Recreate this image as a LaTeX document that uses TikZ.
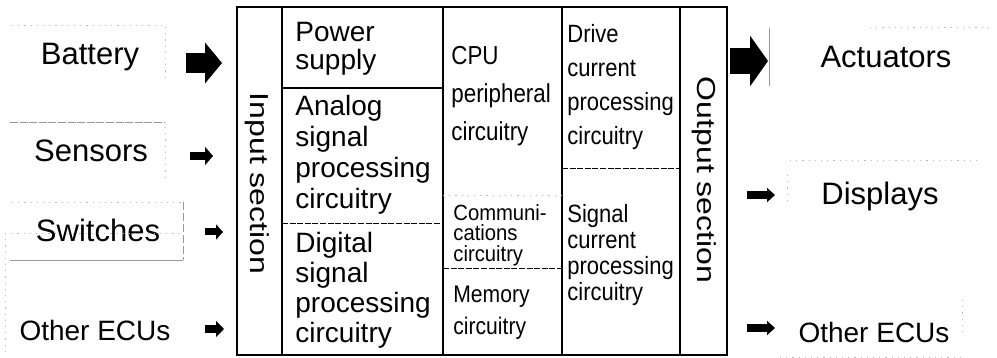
\documentclass[tikz,border=0pt]{standalone}
\usepackage{fontspec}
\usepackage{graphicx}
\setmainfont{Liberation Sans}
\newfontfamily\condA{Liberation Sans}[FakeStretch=0.86]
\newfontfamily\condB{Liberation Sans}[FakeStretch=0.88]
\newfontfamily\condC{Liberation Sans}[FakeStretch=0.92]
\usetikzlibrary{arrows.meta}

\tikzset{
  extlabel/.style={font=\fontsize{15.5}{18}\selectfont, inner sep=0pt, anchor=base},
  ecutext/.style={font=\fontsize{14}{17}\selectfont, inner sep=0pt, anchor=base},
  blocktext/.style={align=left, anchor=north west, inner sep=0pt},
  sectext/.style={anchor=base, rotate=-90, inner sep=0pt, font=\fontsize{13}{15}\selectfont},
  frame/.style={line width=0.75pt},
  splitline/.style={line width=0.45pt, dash pattern=on 3pt off 0.8pt},
  faintline/.style={line width=0.35pt, gray!55, dash pattern=on 0.6pt off 2.5pt},
  scanedge/.style={line width=0.5pt, gray!80},
  % filled block arrow: #1 shaft, #2 head width, #3 head length
  barrow/.style n args={3}{line width=#1, -{Triangle[width=#2, length=#3]}},
}

\begin{document}
\begin{tikzpicture}[x=0.5pt, y=-0.5pt]
\useasboundingbox (0,0) rectangle (997,358);

% ---------- external sources ----------
\node[extlabel] (battery)  at (90,65)  {Battery};
\node[extlabel] (sensors)  at (91,162) {Sensors};
\node[extlabel] (switches) at (98,242) {Switches};
\node[ecutext]  (ecuin)    at (95,340) {Other ECUs};

% faint outlines left around the source labels
\draw[faintline] (12,25) -- (165,25) -- (165,82);
\draw[scanedge, dash pattern=on 4pt off 0.8pt] (10,123) -- (165,123);
\draw[faintline] (165,127) -- (165,180);
\draw[faintline] (12,202) -- (183,202);
\draw[scanedge, dash pattern=on 4pt off 1.5pt] (183,202) -- (183,260);
\draw[scanedge] (10,260) -- (183,260);
\draw[faintline] (5,233) -- (183,233);
\draw[faintline] (5,233) -- (5,352);

% ---------- ECU block ----------
\draw[frame] (237,7) rectangle (727,355);
\draw[frame] (282,7) -- (282,355);
\draw[frame] (443,7) -- (443,355);
\draw[frame] (562,7) -- (562,355);
\draw[line width=1.2pt] (680,7) -- (680,355);

\draw[frame] (282,88) -- (443,88);
\draw[splitline] (282,223) -- (443,223);
\draw[faintline] (443,195) -- (562,195);
\draw[splitline] (443,268) -- (562,268);
\draw[splitline] (562,168) -- (680,168);

\node[sectext] (insec)  at (250,183.5) {\scalebox{1.23}[1]{Input section}};
\node[sectext] (outsec) at (697,180)   {\scalebox{1.23}[1]{Output section}};

\node[blocktext, font=\fontsize{14}{14}\selectfont]   (power)   at (295,22)  {Power\\supply};
\node[blocktext, font=\fontsize{14}{15.5}\selectfont] (analog)  at (295,95)  {Analog\\signal\\processing\\circuitry};
\node[blocktext, font=\fontsize{14}{15}\selectfont]   (digital) at (295,232) {Digital\\signal\\processing\\circuitry};

\node[blocktext, font=\condA\fontsize{13}{19}\selectfont]      (cpu)    at (451,46)  {CPU\\peripheral\\circuitry};
\node[blocktext, font=\condC\fontsize{11}{10.25}\selectfont]   (comm)   at (453,204) {Communi-\\cations\\circuitry};
\node[blocktext, font=\condB\fontsize{12}{16}\selectfont]      (memory) at (453,286) {Memory\\circuitry};

\node[blocktext, font=\condB\fontsize{12.5}{17}\selectfont]    (drive)  at (567,24)  {Drive\\current\\processing\\circuitry};
\node[blocktext, font=\condB\fontsize{12.5}{13}\selectfont]    (signal) at (567,204) {Signal\\current\\processing\\circuitry};

% ---------- external loads ----------
\node[extlabel] (actuators) at (886,68)  {Actuators};
\node[extlabel] (displays)  at (880,205) {Displays};
\node[ecutext]  (ecuout)    at (874,342) {Other ECUs};

\draw[scanedge] (769,28) -- (769,86);
\draw[faintline] (870,27) -- (990,27);
\draw[faintline] (790,160) -- (980,160);
\draw[faintline] (787,175) -- (787,205);
\draw[faintline] (962,300) -- (962,337);
\draw[faintline] (780,357) -- (960,357);

% ---------- block arrows ----------
\coordinate (batA) at (186,63);  \coordinate (batB) at (222,63);
\coordinate (senA) at (190,156); \coordinate (senB) at (213,156);
\coordinate (swA)  at (205,232); \coordinate (swB)  at (223,232);
\coordinate (eiA)  at (205,329); \coordinate (eiB)  at (224,329);
\coordinate (actA) at (730,61);  \coordinate (actB) at (768,61);
\coordinate (disA) at (747,195); \coordinate (disB) at (775,195);
\coordinate (eoA)  at (747,328); \coordinate (eoB)  at (775,328);

\draw[barrow={10pt}{20pt}{8.5pt}]  (batA) -- (batB);
\draw[barrow={4pt}{9pt}{4pt}]      (senA) -- (senB);
\draw[barrow={3.5pt}{7.5pt}{3.5pt}] (swA) -- (swB);
\draw[barrow={4pt}{8pt}{4pt}]      (eiA)  -- (eiB);
\draw[barrow={13pt}{25pt}{9pt}]    (actA) -- (actB);
\draw[barrow={4pt}{7pt}{4pt}]      (disA) -- (disB);
\draw[barrow={4pt}{7pt}{4pt}]      (eoA)  -- (eoB);
\end{tikzpicture}
\end{document}
